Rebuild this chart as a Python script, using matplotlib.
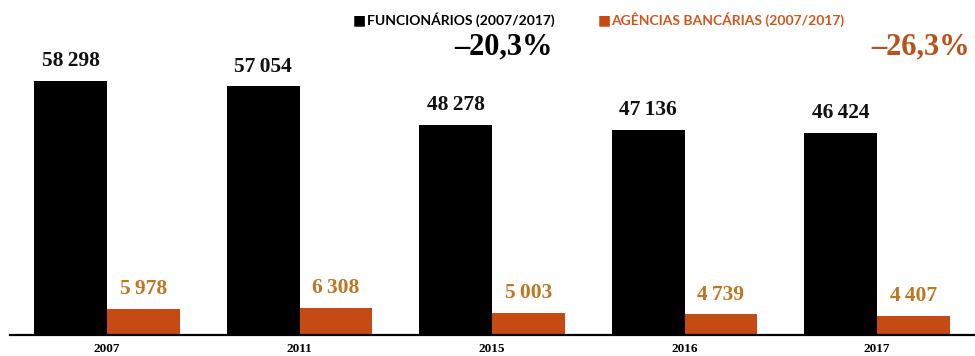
import numpy as np
import matplotlib
matplotlib.use("Agg")
import matplotlib.pyplot as plt

anos = ["2007", "2011", "2015", "2016", "2017"]
funcionarios = [58298, 57054, 48278, 47136, 46424]
agencias = [5978, 6308, 5003, 4739, 4407]
rotulos_func = ["58\u2009298", "57\u2009054", "48\u2009278", "47\u2009136", "46\u2009424"]
rotulos_ag = ["5\u2009978", "6\u2009308", "5\u2009003", "4\u2009739", "4\u2009407"]

preto = "#000000"
laranja = "#C64A14"
laranja_txt = "#BE7622"

fig = plt.figure(figsize=(9.75, 3.56), dpi=100)
ax = fig.add_axes([10 / 975, 21 / 356, 965 / 975, 335 / 356])

x = np.arange(len(anos))
w = 0.379
ax.bar(x - w / 2, funcionarios, width=w, color=preto)
ax.bar(x + w / 2, agencias, width=w, color=laranja)

serif = ["Liberation Serif", "DejaVu Serif"]
for i in range(len(anos)):
    ax.annotate(rotulos_func[i], (x[i] - w / 2, funcionarios[i]), xytext=(0, 7),
                textcoords="offset points", ha="center", va="bottom",
                fontsize=15.5, fontweight="bold", family=serif, color="#111111")
    ax.annotate(rotulos_ag[i], (x[i] + w / 2, agencias[i]), xytext=(0, 7),
                textcoords="offset points", ha="center", va="bottom",
                fontsize=15.5, fontweight="bold", family=serif, color=laranja_txt)

ax.set_xlim((10 - 107) / 192.5, (975 - 107) / 192.5)
ax.set_ylim(0, 335 * 58298 / 254)
ax.set_xticks(x)
ax.set_xticklabels(anos, fontsize=9.5, fontweight="bold", family=serif)
ax.tick_params(axis="x", length=0, pad=6)
ax.set_yticks([])
for s in ["top", "left", "right"]:
    ax.spines[s].set_visible(False)
ax.spines["bottom"].set_linewidth(1.6)

# legenda no topo
fig.text(353 / 975, 1 - 20 / 356, "\u25A0", fontsize=10, color=preto, va="center", ha="left")
fig.text(367 / 975, 1 - 20 / 356, "FUNCIONÁRIOS (2007/2017)", fontsize=10,
         fontweight="bold", family=["Lato", "DejaVu Sans"], color=preto, va="center", ha="left")
fig.text(598 / 975, 1 - 20 / 356, "\u25A0", fontsize=10, color=laranja, va="center", ha="left")
fig.text(611 / 975, 1 - 20 / 356, "AGÊNCIAS BANCÁRIAS (2007/2017)", fontsize=10,
         fontweight="bold", family=["Lato", "DejaVu Sans"], color="#D0561E", va="center", ha="left")
fig.text(553 / 975, 1 - 47 / 356, "\u201320,3%", fontsize=22, fontweight="bold",
         family=serif, color=preto, va="center", ha="right")
fig.text(970 / 975, 1 - 47 / 356, "\u201326,3%", fontsize=22, fontweight="bold",
         family=serif, color="#B8521A", va="center", ha="right")

fig.savefig("out.png", dpi=100)
